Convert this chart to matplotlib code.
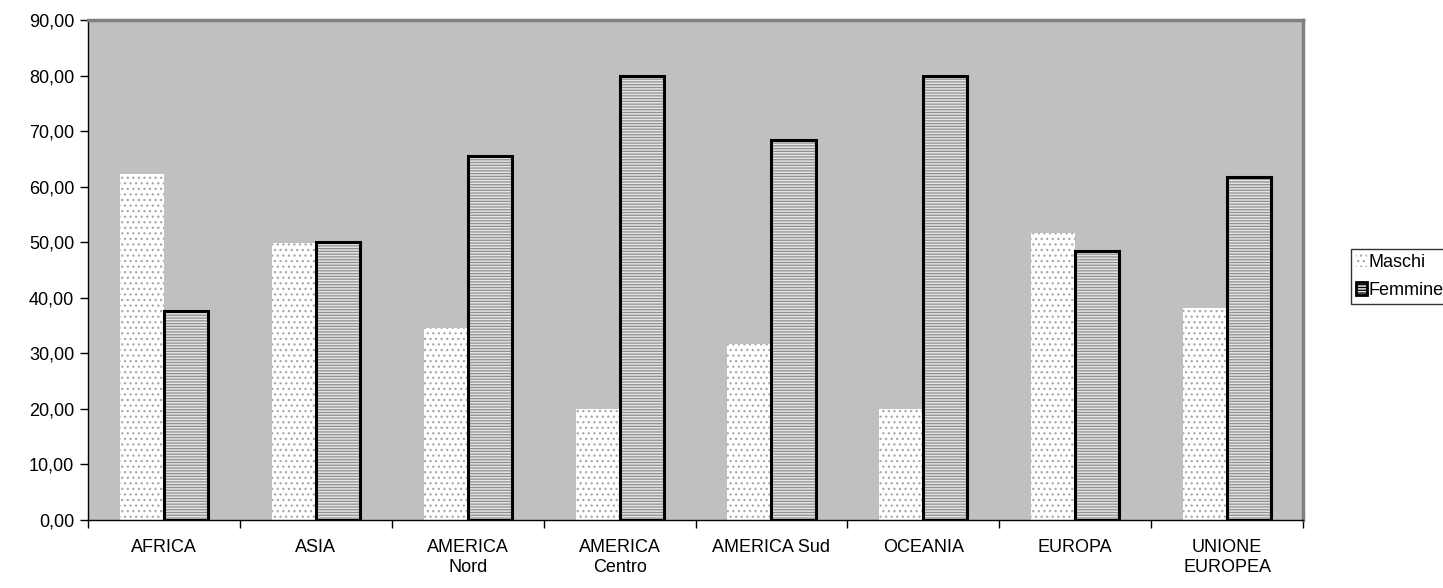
import numpy as np
import matplotlib.pyplot as plt
from matplotlib.patches import Patch

plt.rcParams['font.family'] = ['Liberation Sans', 'DejaVu Sans']
plt.rcParams['hatch.linewidth'] = 0.9

regioni = ["AFRICA", "ASIA", "AMERICA\nNord", "AMERICA\nCentro", "AMERICA Sud",
           "OCEANIA", "EUROPA", "UNIONE\nEUROPEA"]
maschi = [62.3, 49.9, 34.5, 20.0, 31.6, 20.0, 51.6, 38.2]
femmine = [37.7, 50.1, 65.5, 80.0, 68.4, 80.0, 48.4, 61.8]

x = np.arange(len(regioni))
w = 0.29

fig = plt.figure(figsize=(14.43, 5.88), dpi=100)
ax = fig.add_axes([0.061, 0.1156, 0.842, 0.8504])
ax.set_facecolor('#c0c0c0')

# maschi: bianco a puntini
ax.bar(x - w / 2, maschi, w, color='white', edgecolor='#a8a8a8', hatch='...', linewidth=0)
# femmine: righe orizzontali grigie con bordo nero
ax.bar(x + w / 2, femmine, w, color='#e4e4e4', edgecolor='#909090', hatch='------', linewidth=0)
ax.bar(x + w / 2, femmine, w, fill=False, edgecolor='black', linewidth=2.2)

ax.set_xlim(-0.5, len(regioni) - 0.5)
ax.set_ylim(0, 90)
ax.set_yticks(np.arange(0, 91, 10))
ax.set_yticklabels([f"{v:.2f}".replace('.', ',') for v in np.arange(0, 91, 10)], fontsize=13)
ax.set_xticks(x)
ax.set_xticklabels(regioni, fontsize=13, linespacing=1.2)
ax.set_xticks(np.arange(-0.5, len(regioni)), minor=True)
ax.tick_params(axis='x', which='major', length=0, pad=14)
ax.tick_params(axis='x', which='minor', length=6, width=1, direction='out')
ax.tick_params(axis='y', length=6, width=1, direction='out', pad=4)

for s in ['top', 'right']:
    ax.spines[s].set_color('#808080')
    ax.spines[s].set_linewidth(2.5)
for s in ['left', 'bottom']:
    ax.spines[s].set_color('black')
    ax.spines[s].set_linewidth(1)

handles = [Patch(facecolor='white', edgecolor='#a8a8a8', hatch='...', linewidth=0),
           Patch(facecolor='#e4e4e4', edgecolor='black', hatch='------', linewidth=2)]
leg = fig.legend(handles, ['Maschi', 'Femmine'], loc='center left',
                 bbox_to_anchor=(0.936, 0.53), fontsize=13, frameon=True, fancybox=False,
                 edgecolor='black', handlelength=0.6, handleheight=0.7, handletextpad=0.1,
                 borderpad=0.3, labelspacing=0.6, borderaxespad=0)
leg.get_frame().set_linewidth(1)

fig.savefig('out.png', dpi=100)
